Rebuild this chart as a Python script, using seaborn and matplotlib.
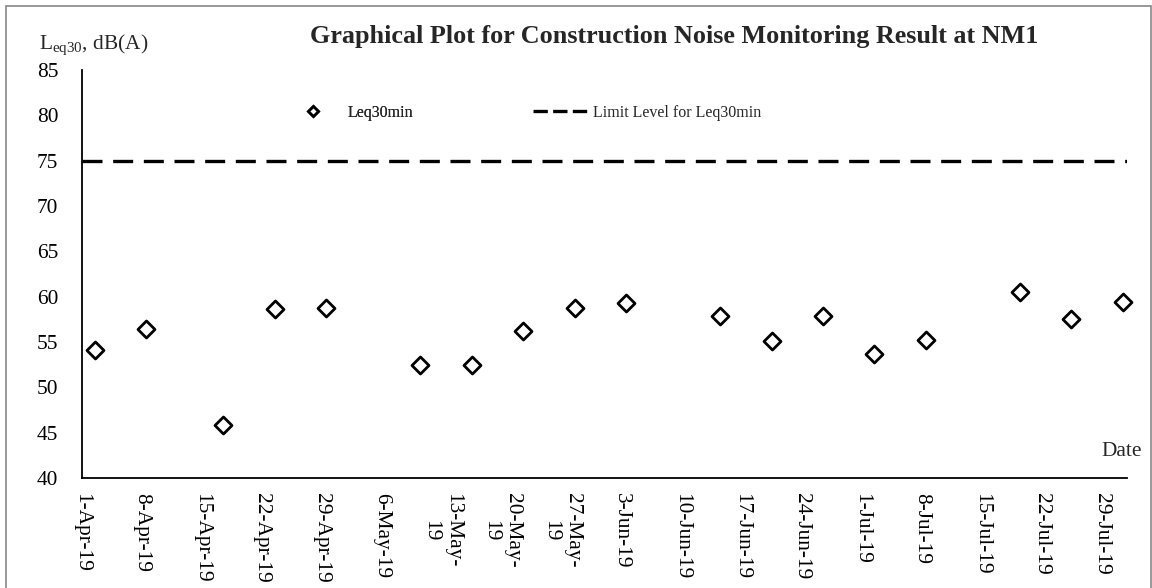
import matplotlib
matplotlib.use("Agg")
import matplotlib.pyplot as plt
from matplotlib.lines import Line2D
from matplotlib.patches import Rectangle
import seaborn as sns
import pandas as pd

# Monitoring results at NM1 (Leq30min, dB(A))
sample_dates = ["2019-04-02", "2019-04-08", "2019-04-17", "2019-04-23", "2019-04-29",
                "2019-05-10", "2019-05-16", "2019-05-22", "2019-05-28", "2019-06-03",
                "2019-06-14", "2019-06-20", "2019-06-26", "2019-07-02", "2019-07-08",
                "2019-07-19", "2019-07-25", "2019-07-31"]
leq30_values = [54.1, 56.4, 45.9, 58.6, 58.8, 52.5, 52.5, 56.2, 58.7, 59.3,
                57.9, 55.1, 57.9, 53.7, 55.2, 60.5, 57.5, 59.4]
limit_level = 75

tick_dates = ["2019-04-01", "2019-04-08", "2019-04-15", "2019-04-22", "2019-04-29",
              "2019-05-06", "2019-05-13", "2019-05-20", "2019-05-27", "2019-06-03",
              "2019-06-10", "2019-06-17", "2019-06-24", "2019-07-01", "2019-07-08",
              "2019-07-15", "2019-07-22", "2019-07-29"]
tick_labels = ["1-Apr-19", "8-Apr-19", "15-Apr-19", "22-Apr-19", "29-Apr-19",
               "6-May-19", "13-May-\n19", "20-May-\n19", "27-May-\n19", "3-Jun-19",
               "10-Jun-19", "17-Jun-19", "24-Jun-19", "1-Jul-19", "8-Jul-19",
               "15-Jul-19", "22-Jul-19", "29-Jul-19"]
y_ticks = [40, 45, 50, 55, 60, 65, 70, 75, 80, 85]

sns.set_theme(style="white")
plt.rcParams["font.family"] = ["Liberation Serif", "DejaVu Serif"]
plt.rcParams["mathtext.fontset"] = "custom"
plt.rcParams["mathtext.rm"] = "Liberation Serif"
plt.rcParams["mathtext.it"] = "Liberation Serif:italic"

W, H = 1152, 588
fig = plt.figure(figsize=(W / 100, H / 100), dpi=100)
fig.patch.set_facecolor("white")
ax = fig.add_axes([82 / W, 1 - 478 / H, (1127 - 82) / W, (478 - 70) / H])

df = pd.DataFrame({"date": pd.to_datetime(sample_dates), "leq": leq30_values})
# each reading sits in the middle of its day slot
df["date"] = df["date"] + pd.Timedelta(hours=12)

sns.scatterplot(data=df, x="date", y="leq", ax=ax, marker="D", s=75,
                facecolor="white", edgecolor="black", linewidth=2, zorder=3,
                clip_on=False)
ax.axhline(limit_level, color="black", lw=2.4, ls=(0, (6, 3.2)), zorder=2)

ax.set_xlim(pd.Timestamp("2019-04-01"), pd.Timestamp("2019-08-01"))
ax.set_ylim(40, 85)
ax.set_yticks(y_ticks)
ax.set_yticklabels([str(v) for v in y_ticks], fontsize=15.4)
ax.set_xticks(pd.to_datetime(tick_dates))
ax.set_xticklabels(tick_labels, rotation=270, fontsize=15.4, ha="center", va="top",
                   multialignment="center")
ax.set_xlabel("")
ax.set_ylabel("")

for side in ["top", "right"]:
    ax.spines[side].set_visible(False)
for side in ["left", "bottom"]:
    ax.spines[side].set_color("black")
    ax.spines[side].set_linewidth(1.3)
ax.tick_params(axis="both", direction="in", length=4.5, width=1, color="#999999",
               labelcolor="black")
ax.tick_params(axis="y", pad=17)
ax.tick_params(axis="x", pad=11)
ax.grid(False)

fig.text(674 / W, 1 - 37 / H, "Graphical Plot for Construction Noise Monitoring Result at NM1",
         ha="center", va="center", fontsize=18.8, fontweight="bold")
fig.text(39 / W, 1 - 45 / H, r"L$_{\mathrm{eq30}}$, dB(A)", ha="left", va="center",
         fontsize=15.4)
fig.text(1142 / W, 1 - 452 / H, "Date", ha="right", va="center", fontsize=15.4)

# legend entries
fs_leg = 11.5
h_pts = Line2D([], [], ls="none", marker="D", markersize=5.5, markerfacecolor="white",
               markeredgecolor="black", markeredgewidth=2)
h_lim = Line2D([], [], color="black", lw=2.4, ls=(0, (4.3, 1.6)))
leg1 = fig.legend([h_pts], ["Leq30min"], loc="center left",
                  bbox_to_anchor=(305 / W, 1 - 113 / H), frameon=False, fontsize=fs_leg,
                  handlelength=1.0, handletextpad=1.65, borderpad=0, borderaxespad=0)
leg2 = fig.legend([h_lim], ["Limit Level for Leq30min"], loc="center left",
                  bbox_to_anchor=(533 / W, 1 - 113 / H), frameon=False, fontsize=fs_leg,
                  handlelength=3.4, handletextpad=0.38, borderpad=0, borderaxespad=0)
fig.add_artist(leg1)

fig.patches.append(Rectangle((6 / W, -0.01), (1151 - 6) / W, (H - 6) / H + 0.01,
                             transform=fig.transFigure, fill=False,
                             edgecolor="#888888", lw=1.2))

fig.savefig("out.png", dpi=100)
